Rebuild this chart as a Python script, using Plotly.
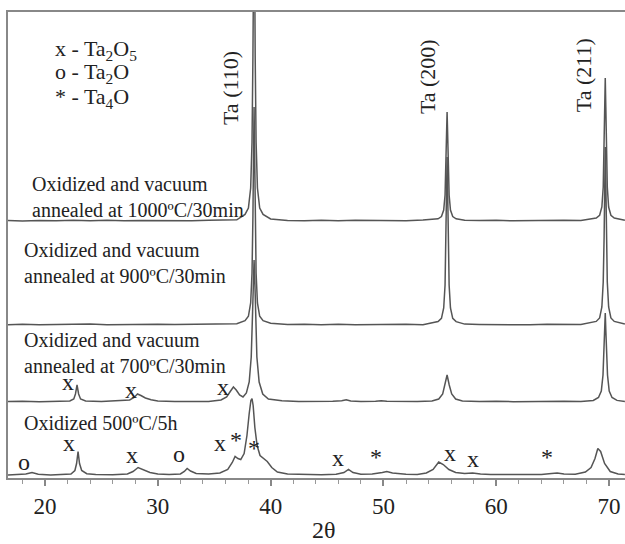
import plotly.graph_objects as go

# ---- data (2theta in degrees, intensity in arbitrary units above each trace's own baseline) ----
x_1000 = [16.7, 18.0, 19.5, 21.0, 22.5, 24.0, 25.5, 27.0, 28.5, 30.0, 31.5, 33.0, 34.5, 36.0, 37.0,
          37.73, 38.03, 38.23, 38.35, 38.43, 38.48, 38.53, 38.58, 38.63, 38.71, 38.83, 39.03, 39.33,
          40.0, 41.5, 43.0, 44.5, 46.0, 47.5, 49.0, 50.5, 52.0, 53.5,
          54.84, 55.14, 55.34, 55.46, 55.54, 55.59, 55.64, 55.69, 55.74, 55.82, 55.94, 56.14, 56.44,
          57.2, 58.5, 60.0, 61.5, 63.0, 64.5, 66.0, 67.5,
          68.86, 69.16, 69.36, 69.48, 69.56, 69.61, 69.66, 69.71, 69.76, 69.84, 69.96, 70.16, 70.46, 71.4]
i_1000 = [0.5, 0.0, 0.6, 0.2, 0.7, 0.3, 0.8, 0.2, 0.6, 0.4, 0.9, 0.3, 0.7, 0.8, 1.2,
          6.6, 13, 33, 79, 165, 264, 330, 264, 165, 79, 33, 13, 6.6,
          2.0, 0.6, 0.2, 0.7, 0.3, 0.8, 0.4, 0.6, 0.3, 0.9,
          2.2, 4.4, 11, 26, 55, 87, 109, 87, 55, 26, 11, 4.4, 2.2,
          0.8, 0.4, 0.7, 0.2, 0.6, 0.3, 0.8, 0.5,
          2.9, 5.7, 14, 34, 72, 114, 143, 114, 72, 34, 14, 5.7, 2.9, 0.8]

x_900 = list(x_1000)
i_900 = [0.3, 0.8, 0.2, 0.6, 0.4, 0.9, 0.3, 0.6, 0.2, 0.7, 0.4, 0.8, 0.5, 0.9, 1.3,
         4.4, 8.7, 22, 52, 109, 174, 218, 174, 109, 52, 22, 8.7, 4.4,
         1.8, 0.5, 0.8, 0.3, 0.7, 0.2, 0.6, 0.4, 0.8, 0.3,
         3.4, 6.7, 17, 40, 84, 134, 168, 134, 84, 40, 17, 6.7, 3.4,
         0.9, 0.5, 0.3, 0.7, 0.2, 0.8, 0.4, 0.6,
         3.6, 7.1, 18, 43, 89, 142, 178, 142, 89, 43, 18, 7.1, 3.6, 1.0]

x_700 = [16.7, 18.0, 19.5, 21.0, 22.2, 22.55, 22.7, 22.84, 22.98, 23.15, 23.6, 25.0, 26.5, 27.5, 27.9,
         28.2, 28.5, 28.9, 29.4, 30.0, 31.5, 33.0, 34.5, 35.6, 36.1, 36.45, 36.7, 36.95, 37.25, 37.55,
         37.85, 38.1, 38.28, 38.4, 38.47, 38.53, 38.59, 38.66, 38.78, 38.98, 39.3, 39.8, 41.0, 42.5,
         44.0, 45.5, 46.3, 46.7, 47.1, 48.0, 49.3, 49.8, 50.3, 51.5, 53.0, 54.3, 54.9, 55.25, 55.45,
         55.64, 55.83, 56.05, 56.4, 57.0, 58.5, 60.0, 61.5, 63.0, 64.5, 66.0, 67.5, 68.6, 69.06, 69.31,
         69.46, 69.56, 69.61, 69.66, 69.71, 69.76, 69.86, 70.01, 70.26, 70.7, 71.4]
i_700 = [0.4, 0.8, 0.3, 0.7, 1.0, 3.0, 8.0, 17, 8.0, 3.0, 1.0, 0.6, 1.0, 2.0, 4.5,
         8.0, 6.5, 4.0, 2.2, 1.0, 0.5, 0.8, 0.6, 2.0, 5.0, 11, 15, 12, 7.0, 5.0,
         9.0, 20, 45, 90, 125, 142, 125, 90, 45, 20, 8.0, 3.0, 1.2, 0.6,
         0.5, 0.8, 1.2, 2.2, 1.0, 0.5, 0.7, 1.3, 0.8, 0.6, 0.4, 1.0, 3.0, 8.0, 17,
         27, 17, 8.0, 3.0, 1.0, 0.5, 0.8, 0.3, 0.7, 0.4, 0.8, 0.5, 1.6, 4.5, 11,
         27, 53, 72, 89, 72, 53, 27, 11, 4.5, 1.6, 0.6]

x_500 = [16.7, 17.5, 18.3, 18.85, 19.4, 20.5, 21.5, 22.3, 22.65, 22.8, 22.93, 23.06, 23.25, 23.7, 24.5,
         26.0, 27.3, 27.8, 28.25, 28.7, 29.3, 30.0, 31.0, 32.0, 32.35, 32.6, 32.9, 33.4, 34.5, 35.5,
         36.2, 36.6, 36.85, 37.1, 37.35, 37.65, 37.9, 38.1, 38.25, 38.35, 38.45, 38.6, 38.8, 39.06,
         39.4, 39.7, 40.1, 40.6, 41.5, 43.0, 44.5, 45.8, 46.5, 46.9, 47.3, 48.0, 49.0, 49.9, 50.3,
         50.8, 52.0, 53.0, 53.8, 54.4, 54.9, 55.3, 55.8, 56.4, 57.2, 57.9, 58.6, 59.5, 61.0, 62.5,
         64.0, 64.9, 65.4, 66.0, 67.0, 67.9, 68.4, 68.75, 69.0, 69.25, 69.6, 70.1, 70.8, 71.4]
i_500 = [0.5, 0.8, 1.5, 3.0, 1.2, 0.6, 0.8, 1.5, 5.0, 12, 24, 12, 5.0, 1.8, 1.0,
         0.8, 1.5, 4.0, 8.0, 6.0, 3.0, 1.5, 1.0, 1.5, 4.0, 7.0, 4.5, 2.0, 1.5, 2.5,
         6.0, 13, 19, 17, 16, 22, 40, 62, 75, 77, 70, 48, 30, 20,
         17, 14, 8.0, 3.5, 1.5, 1.0, 0.8, 1.3, 3.0, 6.0, 3.0, 1.2, 1.5, 3.0, 4.0,
         2.5, 1.2, 1.0, 2.5, 6.0, 13.5, 11, 6.0, 3.0, 2.0, 2.5, 1.5, 1.0, 0.8, 1.2,
         1.0, 2.0, 2.5, 1.5, 1.3, 3.5, 8.0, 17, 27, 24, 12, 4.0, 1.5, 1.0]

# vertical stacking offsets of each pattern
offsets = {"1000": 257, "900": 153, "700": 76, "500": 2.5}

sample_labels = {
    "1000": "Oxidized and vacuum<br>annealed at 1000ºC/30min",
    "900": "Oxidized and vacuum<br>annealed at 900ºC/30min",
    "700": "Oxidized and vacuum<br>annealed at 700ºC/30min",
    "500": "Oxidized 500ºC/5h",
}
label_pos = {"1000": (18.67, 281.5), "900": (17.96, 215.5), "700": (17.96, 125.5), "500": (17.96, 55)}

legend_lines = ["x - Ta<sub>2</sub>O<sub>5</sub>", "o - Ta<sub>2</sub>O", "* - Ta<sub>4</sub>O"]
legend_y = [428, 405, 380]

reflections = ["Ta (110)", "Ta (200)", "Ta (211)"]
reflection_pos = [(36.4, 390), (53.87, 401), (67.70, 403)]

phase_marks = [
    (22.04, 96, "x"), (27.62, 88, "x"), (35.78, 91, "x"),
    (18.14, 16, "o"), (22.13, 35, "x"), (27.71, 23, "x"), (31.88, 24, "o"), (35.51, 35, "x"),
    (36.93, 38, "*"), (38.53, 30, "*"), (45.98, 20, "x"), (49.34, 21, "*"), (55.90, 25, "x"),
    (57.94, 19, "x"), (64.50, 21, "*"),
]

tick_vals = [20, 30, 40, 50, 60, 70]
tick_text = ["20", "30", "40", "50", "60", "70"]

SERIF = "Liberation Serif"
LINE = "#555555"
TXT = "#222222"

fig = go.Figure()
series = [("1000", x_1000, i_1000), ("900", x_900, i_900), ("700", x_700, i_700), ("500", x_500, i_500)]
for key, xs, ys in series:
    off = offsets[key]
    fig.add_trace(go.Scatter(x=xs, y=[v + off for v in ys], mode="lines",
                             line=dict(color=LINE, width=1.5), showlegend=False, hoverinfo="skip"))

for key, txt in sample_labels.items():
    x0, y0 = label_pos[key]
    fig.add_annotation(x=x0, y=y0, xref="x", yref="y", text=txt, showarrow=False, align="left",
                       xanchor="left", yanchor="middle", font=dict(family=SERIF, size=20, color=TXT))

for txt, yy in zip(legend_lines, legend_y):
    fig.add_annotation(x=20.71, y=yy, xref="x", yref="y", text=txt, showarrow=False,
                       xanchor="left", yanchor="middle", font=dict(family=SERIF, size=22, color=TXT))

for txt, (xx, yy) in zip(reflections, reflection_pos):
    fig.add_annotation(x=xx, y=yy, xref="x", yref="y", text=txt, showarrow=False, textangle=-90,
                       xanchor="center", yanchor="middle", font=dict(family=SERIF, size=22, color=TXT))

for xx, yy, s in phase_marks:
    fig.add_annotation(x=xx, y=yy, xref="x", yref="y", text=s, showarrow=False,
                       xanchor="center", yanchor="middle", font=dict(family=SERIF, size=24, color=TXT))

fig.add_annotation(x=0.512, y=-0.112, xref="paper", yref="paper", text="2θ", showarrow=False,
                   xanchor="center", yanchor="middle", font=dict(family=SERIF, size=24, color=TXT))

fig.update_layout(
    width=625, height=544,
    margin=dict(l=8, r=0, t=12, b=66),
    paper_bgcolor="white", plot_bgcolor="white",
    xaxis=dict(range=[16.72, 71.41], showgrid=False, zeroline=False, showline=True,
               linecolor="#888888", linewidth=2, mirror=True,
               ticks="outside", ticklen=6, tickwidth=1.5, tickcolor="#888888",
               tickvals=tick_vals, ticktext=tick_text, ticklabelstandoff=0,
               tickfont=dict(family=SERIF, size=23, color=TXT),
               minor=dict(dtick=2, tick0=0, ticks="outside", ticklen=4, tickwidth=1, tickcolor="#999999")),
    yaxis=dict(range=[0, 466], showgrid=False, zeroline=False, showline=True,
               linecolor="#888888", linewidth=2, showticklabels=False, ticks=""),
)

fig.write_html("out.html")
